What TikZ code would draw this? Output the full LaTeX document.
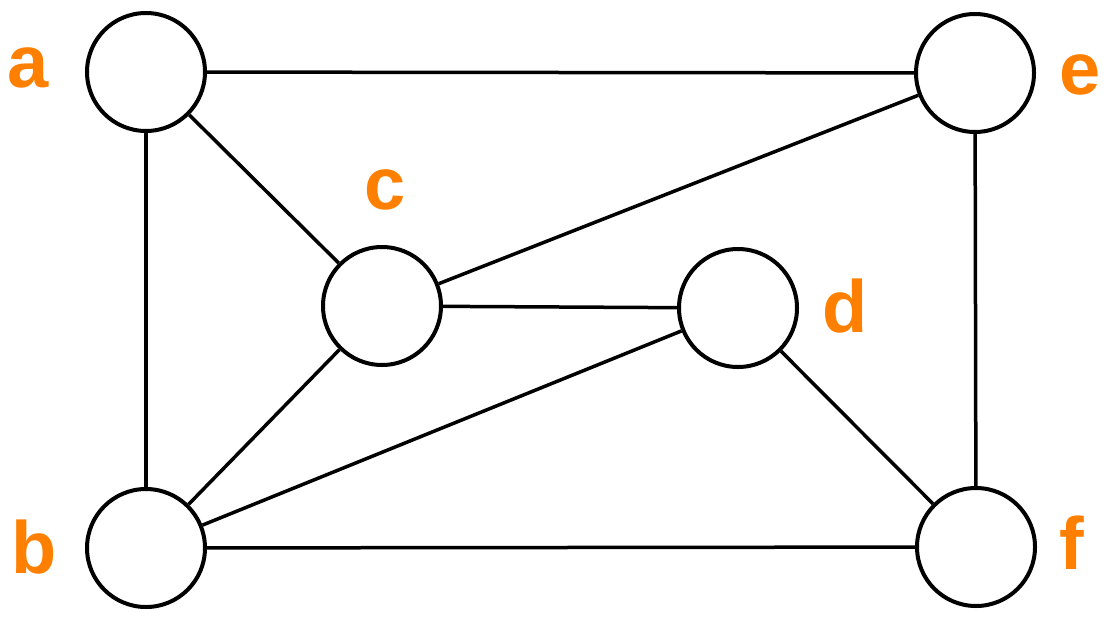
\documentclass[tikz,border=0pt]{standalone}
\usepackage{fontspec}
\setmainfont{Liberation Sans}
\definecolor{lbl}{RGB}{255,128,0}
\begin{document}
\begin{tikzpicture}[x=1pt,y=-1pt,
  vert/.style={circle,draw=black,line width=4pt,minimum size=118pt,inner sep=0pt,fill=white},
  lab/.style={text=lbl,font=\fontsize{74}{78}\selectfont\bfseries,inner sep=0pt},
  edge/.style={line width=3.5pt,black}]
\useasboundingbox (0,0) rectangle (1116,624);
\node[vert] (a) at (146,72) {};
\node[vert] (e) at (975,73) {};
\node[vert] (b) at (146,548) {};
\node[vert] (f) at (976,547) {};
\node[vert] (c) at (382,306) {};
\node[vert] (d) at (738,308) {};
\draw[edge] (a) -- (e);
\draw[edge] (a) -- (c);
\draw[edge] (a) -- (b);
\draw[edge] (c) -- (e);
\draw[edge] (c) -- (d);
\draw[edge] (c) -- (b);
\draw[edge] (d) -- (b);
\draw[edge] (d) -- (f);
\draw[edge] (e) -- (f);
\draw[edge] (b) -- (f);
\node[lab] (la) at (28,68) {a};
\node[lab] (le) at (1080,75) {e};
\node[lab] (lc) at (385,190) {c};
\node[lab] (ld) at (845,306) {d};
\node[lab] (lb) at (34,547) {b};
\node[lab] (lf) at (1072,543) {f};
\end{tikzpicture}
\end{document}
